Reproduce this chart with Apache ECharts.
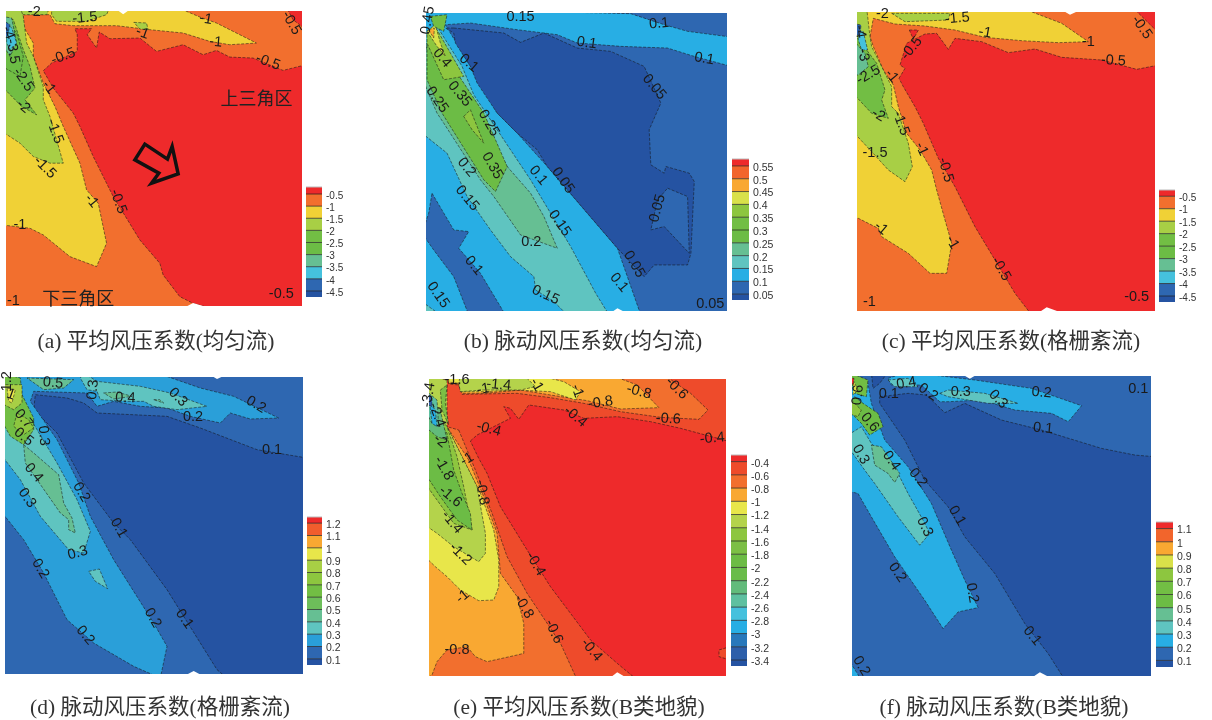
<!DOCTYPE html>
<html><head><meta charset="utf-8">
<script src="https://cdn.jsdelivr.net/npm/echarts@6/dist/echarts.min.js"></script>
<style>html,body{margin:0;padding:0;background:#fff}#c{width:1212px;height:720px}</style>
</head><body><div id="c"></div>
<script>
const R='#EE2A2B',OR='#EE4B2B',O='#F26F2E',AM='#F9A832',Y='#F0D136',Y2='#E8E64A',Y3='#D9E14A',L='#A8CF45',L2='#8DC63F',G='#72BE44',G2='#6CBC45',SG='#66BF93',SG2='#5EC0A0',T='#5FC4C0',C='#45C1DD',S='#28AEE4',S2='#2A9FD9',B='#2E67B1',B2='#2878BB',D='#2553A2';

// ---- colour scales (top to bottom) and legend tick levels
const a_levels=[-0.5,-1,-1.5,-2,-2.5,-3,-3.5,-4,-4.5];
const a_colors=[R,O,Y,L,G,G2,SG,C,B,D];
const b_levels=[0.55,0.5,0.45,0.4,0.35,0.3,0.25,0.2,0.15,0.1,0.05];
const b_colors=[R,'#F2652C',AM,Y3,L2,G,G2,SG,T,S,B,D];
const c_levels=[-0.5,-1,-1.5,-2,-2.5,-3,-3.5,-4,-4.5];
const c_colors=[R,O,Y,L,G,G2,SG,C,B,D];
const d_levels=[1.2,1.1,1,0.9,0.8,0.7,0.6,0.5,0.4,0.3,0.2,0.1];
const d_colors=[R,'#F15D2D',AM,Y2,L,L2,G,'#6DBE5A',SG,T,S2,B,D];
const e_levels=[-0.4,-0.6,-0.8,-1,-1.2,-1.4,-1.6,-1.8,-2,-2.2,-2.4,-2.6,-2.8,-3,-3.2,-3.4];
const e_colors=[R,OR,O,AM,Y2,'#B4D34B',L2,'#7CBF45',G2,'#69BC4A','#62BB7B',SG2,C,S,B2,'#2D5FAA',D];
const f_levels=[1.1,1,0.9,0.8,0.7,0.6,0.5,0.4,0.3,0.2,0.1];
const f_colors=[R,'#F2652C',AM,Y3,L2,G,G2,SG,T,S,B,D];

// ---- contour bands: [colour-scale index, x,y, x,y, ...] in each panel's model units
const a_bands=[
[1,18,34,907,34,907,918,18,918],
[0,130,213,155,190,232,155,232,105,225,87,275,87,262,105,290,145,298,97,330,117,420,115,470,155,550,135,610,165,650,152,690,172,760,175,850,212,907,195,907,918,650,918,580,910,540,890,490,825,480,790,420,720,340,590,280,470,240,380,220,340,160,265],
[0,860,34,907,34,907,90,880,60],
[2,18,34,530,34,600,52,650,70,770,130,690,135,630,125,550,100,450,90,350,78,220,78,165,72,150,45,70,45,70,80,100,130,100,170,130,250,165,320,190,380,240,490,260,570,295,610,320,730,290,800,210,770,130,705,90,685,18,675],
[3,155,34,330,34,320,45,260,65,170,65,155,45],
[3,402,68,440,70,445,90,420,88],
[3,50,34,150,34,140,45,55,45],
[3,18,34,60,34,70,50,80,130,100,170,130,260,130,300,150,350,190,490,150,490,100,470,60,430,18,395],
[4,18,50,40,60,70,150,90,200,105,265,75,300,110,345,65,320,18,260],
[5,18,50,50,100,70,170,60,230,18,200],
[6,18,50,35,55,50,130,30,170,18,130],
[7,20,70,35,85,50,130,30,150,20,130],
[8,18,60,30,75,22,110,18,110]];
const a_notches=[[340,34,370,44,400,34],[540,918,580,909,650,918]];
const a_arrow=[405,480,435,433,503,478,517,440,535,522,455,550,477,520];

const b_bands=[
[10,67,40,968,40,968,933,67,933],
[9,100,40,680,42,780,75,850,95,968,112,968,200,870,170,790,145,650,140,520,130,460,105,340,90,200,70,125,75,200,200,280,340,340,400,430,500,550,640,640,745,710,933,67,933,67,40],
[10,85,580,150,690,195,695,165,745,230,820,305,933,195,933,150,830,90,750,67,700,75,640],
[11,150,85,300,100,350,128,420,100,520,145,620,155,720,200,770,310,735,390,740,495,780,520,785,500,855,520,870,545,860,760,850,795,750,795,720,830,640,745,550,640,430,500,400,450,340,400,280,340,220,250,200,200,155,130,150,100,125,85],
[10,790,565,850,590,855,760,780,680,740,690,760,600],
[8,67,400,130,460,190,590,260,690,320,770,390,830,395,870,450,905,490,933,615,933,575,880,500,740,440,640,380,540,300,420,210,285,175,200,100,80,67,100],
[8,67,905,110,933,67,933],
[7,67,230,70,130,95,100,140,200,190,290,310,500,380,580,420,650,460,745,350,705,270,590,230,540,120,370,100,340,70,270],
[6,70,130,95,110,140,190,180,250,240,340,310,500,275,575,240,540,140,380,115,340,70,240],
[4,180,350,200,330,240,430,205,390],
[4,70,100,100,90,180,230,120,240,70,130],
[3,70,95,95,75,110,130,125,170,100,140],
[2,75,90,92,85,90,115],
[5,80,50,130,45,120,95,90,80]];
const b_notches=[[610,933,640,925,680,933]];

const c_bands=[
[1,146,36,1040,36,1040,933,146,933],
[0,272,235,290,205,275,195,295,130,350,102,385,100,420,148,440,115,520,125,600,158,680,147,760,172,880,180,985,208,1040,195,1040,933,670,933,620,880,590,830,500,680,440,560,390,475,345,370,320,320,285,260],
[0,303,90,330,90,315,118],
[0,975,36,1040,36,1040,100],
[2,160,36,640,36,760,70,840,125,750,128,640,122,530,112,440,90,350,78,260,72,195,55,185,110,195,140,225,210,255,255,270,320,295,400,335,450,370,510,385,570,410,660,430,730,415,820,365,820,300,760,220,710,210,685,150,655,146,655,146,36],
[3,250,40,425,40,420,60,290,65],
[3,146,36,175,36,185,110,190,140,225,210,250,260,250,320,270,340,300,430,312,500,290,545,240,510,190,455,146,395],
[4,146,100,175,150,205,190,230,270,220,300,240,355,190,340,146,280],
[6,146,120,170,160,180,200,150,225,146,225],
[7,150,90,165,95,178,150,160,150,150,120],
[8,146,70,158,75,155,105,146,105]];
const c_notches=[[750,36,785,44,830,36],[680,933,715,922,780,933]];

const d_bands=[
[12,14,52,908,52,908,943,14,943],
[11,14,52,908,52,908,295,770,270,600,205,500,170,290,160,250,130,200,115,105,105,100,150,170,220,250,370,340,490,390,540,500,690,650,930,680,943,14,943],
[10,14,52,470,52,600,85,700,110,835,175,750,178,690,160,660,190,570,170,500,145,420,140,340,125,290,140,260,100,100,95,90,125,170,240,235,370,270,470,340,600,460,790,500,860,480,943,400,920,280,850,200,780,130,640,70,540,14,455],
[9,250,52,290,65,420,80,510,100,620,140,530,150,460,140,430,125,380,125,300,120,290,95,260,90,240,55],
[9,14,90,50,110,110,210,170,310,230,420,270,515,250,580,205,570,120,470,60,360,14,285],
[9,265,635,297,628,322,687,285,665],
[8,70,255,100,280,175,345,190,430,215,475,225,520,205,510,205,480,180,460,110,360,75,310],
[8,310,100,350,97,395,110,340,118],
[8,460,120,478,120,490,130],
[8,80,55,220,60,190,85,130,90],
[6,14,52,60,55,65,105,100,175,100,210,70,255,30,230,14,180],
[5,50,160,85,180,100,205,70,225,40,200],
[4,14,75,65,75,65,130,40,150,14,130],
[3,20,85,45,90,35,130,25,125]];
const d_notches=[[620,52,650,58,690,52],[540,943,580,934,620,943]];

const e_bands=[
[1,76,57,966,57,966,948,76,948],
[0,200,243,220,225,320,175,300,140,320,145,345,178,375,135,480,150,540,175,640,170,740,185,830,205,966,245,966,860,945,870,945,890,966,900,966,948,700,948,640,910,560,840,500,760,440,680,370,570,290,440,250,340,225,295],
[2,510,57,780,57,860,100,912,150,885,178,770,172,650,155,540,130,440,113,340,100,175,103,165,75,135,72,135,57],
[2,165,210,215,330,265,460,310,590,370,700,470,850,520,948,76,948,76,400,130,200],
[3,400,57,620,57,700,75,765,143,650,147,550,122,440,105,350,90,240,100,175,100,165,72,135,70,130,57],
[3,195,300,240,410,280,520,290,640,340,710,360,790,360,880,340,885,250,905,215,890,190,860,130,870,100,905,85,945,76,948,76,400,130,200],
[4,350,57,400,57,480,65,530,95,515,120,440,95,340,90,240,95,175,95,165,70,135,66,135,57],
[4,76,500,130,200,180,300,230,400,270,510,285,600,285,680,270,720,225,722,170,690,130,650,95,620,76,590],
[5,170,57,360,57,395,80,350,90,240,90,170,95,165,70],
[5,76,57,130,60,130,200,180,300,220,380,245,520,245,580,225,605,150,560,100,520,76,495],
[6,76,120,130,200,160,290,180,380,205,510,150,490,100,420,76,370],
[8,80,150,130,220,150,330,175,400,200,460,205,510,160,480,110,410,76,340],
[7,130,75,125,130,135,195,115,150,110,90],
[10,76,100,110,150,130,240,100,230,76,200],
[11,76,90,100,120,105,200,85,190,76,150],
[13,78,130,95,150,100,200,85,190],
[15,76,100,85,110,85,140,76,130]];
const e_notches=[[610,948,640,937,680,948]];

const f_bands=[
[10,132,48,1028,48,1028,947,132,947],
[11,215,110,300,100,355,105,410,158,470,130,580,180,700,210,880,265,980,285,1028,290,1028,947,770,947,720,880,650,790,560,640,470,530,420,440,350,360,290,240,215,130],
[11,190,48,240,48,215,70,195,85],
[9,240,55,300,48,500,60,670,85,820,137,780,185,730,160,620,150,520,120,420,125,395,125,340,75,250,75],
[9,132,60,180,70,190,130,230,240,300,320,370,430,430,570,470,660,510,742,450,755,405,805,350,720,260,590,190,470,150,400,132,393],
[9,132,895,160,947,132,947],
[8,240,60,300,55,330,80,260,80],
[8,395,100,420,90,530,100,630,130,540,130,420,110],
[8,132,225,160,200,190,250,270,340,300,400,345,480,365,520,335,555,270,470,200,370,170,330,132,260],
[7,190,255,220,260,275,340,260,367,240,340,200,315],
[6,140,110,165,130,210,160,225,200,185,225,160,190,140,170,132,140],
[4,132,110,160,150,150,170,132,160],
[5,132,48,180,60,175,110,140,100],
[3,135,60,150,90,135,105],
[0,132,55,138,55,136,75]];
const f_notches=[[660,947,695,936,740,947],[450,48,485,56,520,48]];

// ---- contour labels: [x, y, text, clockwise degrees]
const a_labels=[[103,38,'-2',0],[255,55,'-1.5',-5],[618,58,'-1',10],[428,100,'-1',20],[648,127,'-1',5],[875,70,'-0.5',60],[190,170,'-0.5',-20],[805,187,'-0.5',20],[25,100,'-4',70],[38,155,'-3.5',80],[70,240,'-2.5',55],[70,320,'-2',40],[147,263,'-1',50],[165,395,'-1.5',70],[135,503,'-1.5',45],[275,603,'-1',50],[355,605,'-0.5',70],[60,675,'-1',0],[40,903,'-1',0],[845,882,'-0.5',0]];
const b_labels=[[350,52,'0.15',0],[765,72,'0.1',-5],[548,130,'0.1',8],[900,177,'0.1',10],[195,190,'0.1',40],[750,262,'0.05',50],[72,62,'0.45',-80],[115,175,'0.4',50],[168,283,'0.35',50],[100,300,'0.25',55],[255,370,'0.25',60],[265,498,'0.35',60],[403,527,'0.1',50],[477,542,'0.05',55],[188,503,'0.2',50],[190,595,'0.15',50],[467,670,'0.15',55],[760,625,'0.05',-75],[382,727,'0.2',0],[690,793,'0.05',60],[645,848,'0.1',50],[210,797,'0.1',50],[425,885,'0.15',25],[103,885,'0.15',55],[918,912,'0.05',0]];
const c_labels=[[222,42,'-2',0],[447,55,'-1.5',-5],[530,98,'-1',10],[840,126,'-1',0],[1000,82,'-0.5',55],[310,145,'-0.5',-50],[915,182,'-0.5',3],[250,228,'-1',50],[180,225,'-2.5',-30],[165,165,'-3',80],[155,95,'-4',80],[210,345,'-2',30],[278,370,'-1.5',70],[340,447,'-1',65],[200,460,'-1.5',0],[412,510,'-0.5',75],[218,685,'-1',40],[432,728,'-1',60],[578,807,'-0.5',60],[183,906,'-1',0],[985,890,'-0.5',0]];
const d_labels=[[20,65,'1.2',-90],[158,70,'0.5',5],[278,90,'0.3',-85],[375,115,'0.4',3],[533,113,'0.3',45],[767,135,'0.2',30],[578,172,'0.2',0],[815,270,'0.1',0],[32,105,'1',20],[70,178,'0.7',50],[70,232,'0.5',40],[130,228,'0.3',85],[100,340,'0.4',50],[80,415,'0.3',55],[243,398,'0.2',60],[355,505,'0.1',60],[232,580,'0.3',-15],[120,627,'0.2',60],[457,775,'0.2',60],[552,778,'0.1',55],[255,827,'0.2',50]];
const e_labels=[[160,60,'-1.6',0],[285,75,'-1.4',5],[238,88,'-1',-10],[398,75,'-1',60],[520,93,'-1',70],[705,95,'-0.8',15],[818,85,'-0.6',45],[590,128,'-0.8',-8],[515,170,'-0.4',40],[793,177,'-0.6',3],[925,235,'-0.4',-5],[255,207,'-0.4',15],[75,105,'-3.4',-80],[100,165,'-2.4',70],[110,243,'-2',40],[190,298,'-1',-30],[120,325,'-1.8',60],[140,410,'-1.6',40],[235,398,'-0.8',80],[145,487,'-1.4',50],[170,582,'-1.2',45],[395,612,'-0.4',60],[177,710,'-1',-40],[360,740,'-0.8',60],[450,815,'-0.6',65],[563,870,'-0.4',50],[160,870,'-0.8',0]];
const f_labels=[[295,70,'0.4',-10],[360,97,'0.2',35],[242,102,'0.1',0],[458,97,'0.3',0],[570,118,'0.3',45],[700,98,'0.2',5],[990,88,'0.1',0],[150,105,'0.6',-85],[185,187,'0.6',50],[705,205,'0.1',5],[158,283,'0.3',60],[250,302,'0.4',55],[330,353,'0.2',50],[447,467,'0.1',60],[350,500,'0.3',65],[268,637,'0.2',55],[492,698,'0.2',80],[672,827,'0.1',50],[160,917,'0.2',60]];
const a_notes=[[770,295,'上三角区'],[235,895,'下三角区']];

const captions=['(a) 平均风压系数(均匀流)','(b) 脉动风压系数(均匀流)','(c) 平均风压系数(格栅紊流)','(d) 脉动风压系数(格栅紊流)','(e) 平均风压系数(B类地貌)','(f) 脉动风压系数(B类地貌)'];

// ---- layout: plot box, model extent, legend box, legend value range, caption centre
const panels=[
 {bands:a_bands,notches:a_notches,labels:a_labels,levels:a_levels,colors:a_colors,box:[6,11,296,295],ext:[18,907,34,918],lg:[306,187,16,110],rng:[-4.75,-0.21],cap:[156,342],fs:10},
 {bands:b_bands,notches:b_notches,labels:b_labels,levels:b_levels,colors:b_colors,box:[426,13,301,298],ext:[67,968,40,933],lg:[732,159,17,141],rng:[0.027,0.577],cap:[583,342],fs:10.5},
 {bands:c_bands,notches:c_notches,labels:c_labels,levels:c_levels,colors:c_colors,box:[857,12,298,299],ext:[146,1040,36,933],lg:[1159,190,16,112],rng:[-4.74,-0.25],cap:[1011,342],fs:10},
 {bands:d_bands,notches:d_notches,labels:d_labels,levels:d_levels,colors:d_colors,box:[5,377,298,297],ext:[14,908,52,943],lg:[307,517,15,148],rng:[0.05,1.25],cap:[160,708],fs:10.5},
 {bands:e_bands,notches:e_notches,labels:e_labels,levels:e_levels,colors:e_colors,box:[429,379,297,297],ext:[76,966,57,948],lg:[731,455,16,211],rng:[-3.49,-0.3],cap:[579,708],fs:10.5},
 {bands:f_bands,notches:f_notches,labels:f_labels,levels:f_levels,colors:f_colors,box:[852,376,299,300],ext:[132,1028,48,947],lg:[1156,522,17,145],rng:[0.05,1.15],cap:[1004,708],fs:10.5}
];

function polyPts(flat,api,ext){
  const pts=[];
  for(let i=0;i<flat.length;i+=2){
    const p=api.coord([flat[i],flat[i+1]]);
    if(flat[i]<=ext[0])p[0]-=4; if(flat[i]>=ext[1])p[0]+=4;
    if(flat[i+1]<=ext[2])p[1]-=4; if(flat[i+1]>=ext[3])p[1]+=4;
    pts.push(p);
  }
  return pts;
}
const grid=[],xAxis=[],yAxis=[],series=[],title=[];
panels.forEach((P,k)=>{
  const g=k*2,lgI=k*2+1;
  grid.push({left:P.box[0],top:P.box[1],width:P.box[2],height:P.box[3]});
  grid.push({left:P.lg[0],top:P.lg[1],width:P.lg[2],height:P.lg[3]});
  xAxis.push({gridIndex:g,type:'value',min:P.ext[0],max:P.ext[1],show:false});
  yAxis.push({gridIndex:g,type:'value',min:P.ext[2],max:P.ext[3],inverse:true,show:false});
  xAxis.push({gridIndex:lgI,type:'value',min:0,max:1,show:false});
  yAxis.push({gridIndex:lgI,type:'value',min:P.rng[0],max:P.rng[1],position:'right',splitLine:{show:false},
    axisLine:{show:false},axisTick:{show:false},
    axisLabel:{show:true,customValues:P.levels,margin:4,fontSize:P.fs,color:'#333',verticalAlign:'top',lineHeight:4,fontFamily:'"Liberation Sans",Arial,sans-serif',formatter:v=>String(v)}});
  series.push({type:'custom',xAxisIndex:g,yAxisIndex:g,clip:true,silent:true,animation:false,
    data:P.bands.map((b,i)=>[i]),
    renderItem:(p,api)=>{
      const b=P.bands[api.value(0)];
      return {type:'polygon',shape:{points:polyPts(b.slice(1),api,P.ext)},
        style:{fill:P.colors[b[0]],stroke:'rgba(20,20,20,0.75)',lineWidth:0.7,lineDash:[3,1.5]}};
    }});
  series.push({type:'custom',xAxisIndex:g,yAxisIndex:g,clip:true,silent:true,animation:false,
    data:P.notches.map((b,i)=>[i]),
    renderItem:(p,api)=>{
      const b=P.notches[api.value(0)];
      return {type:'polygon',shape:{points:polyPts(b,api,P.ext)},style:{fill:'#fff'}};
    }});
  series.push({type:'custom',xAxisIndex:g,yAxisIndex:g,silent:true,animation:false,
    data:P.labels.map((b,i)=>[i]),
    renderItem:(p,api)=>{
      const b=P.labels[api.value(0)],c=api.coord([b[0],b[1]]);
      return {type:'text',x:c[0],y:c[1],rotation:-b[3]*Math.PI/180,
        style:{text:b[2],fontSize:14.5,fontFamily:'"Liberation Sans",Arial,sans-serif',fill:'#1a1a1a',align:'center',verticalAlign:'middle'}};
    }});
  // colour scale built on the legend's value axis
  const edges=[P.rng[1]].concat(P.levels,[P.rng[0]]);
  series.push({type:'custom',xAxisIndex:lgI,yAxisIndex:lgI,silent:true,animation:false,
    data:P.colors.map((c,i)=>[i]),
    renderItem:(p,api)=>{
      const i=api.value(0),a=api.coord([0,edges[i]]),b=api.coord([1,edges[i+1]]);
      return {type:'group',children:[
        {type:'rect',shape:{x:a[0],y:a[1],width:b[0]-a[0],height:b[1]-a[1]},style:{fill:P.colors[i]}},
        {type:'line',shape:{x1:a[0],y1:a[1],x2:b[0],y2:a[1]},style:{stroke:i?'rgba(30,30,30,0.7)':'#bbb',lineWidth:1}}]};
    }});
  title.push({text:captions[k],left:P.cap[0],top:P.cap[1],padding:0,textAlign:'center',textVerticalAlign:'middle',
    textStyle:{fontSize:21.5,fontWeight:'normal',color:'#333',fontFamily:'"Liberation Serif","Noto Sans CJK SC",serif'}});
});
// annotations of panel (a): the wind arrow and the two zone names
series.push({type:'custom',xAxisIndex:0,yAxisIndex:0,silent:true,animation:false,data:[[0]],
  renderItem:(p,api)=>({type:'polygon',shape:{points:polyPts(a_arrow,api,panels[0].ext)},style:{fill:'none',stroke:'#111',lineWidth:3.5}})});
series.push({type:'custom',xAxisIndex:0,yAxisIndex:0,silent:true,animation:false,data:a_notes.map((b,i)=>[i]),
  renderItem:(p,api)=>{const b=a_notes[api.value(0)],c=api.coord([b[0],b[1]]);
    return {type:'text',x:c[0],y:c[1],style:{text:b[2],fontSize:18,fill:'#222',fontFamily:'"Noto Sans CJK SC",sans-serif',align:'center',verticalAlign:'middle'}};}});
const chart=echarts.init(document.getElementById('c'),null,{renderer:'canvas'});
chart.setOption({animation:false,backgroundColor:'#fff',title,grid,xAxis,yAxis,series});
</script></body></html>
